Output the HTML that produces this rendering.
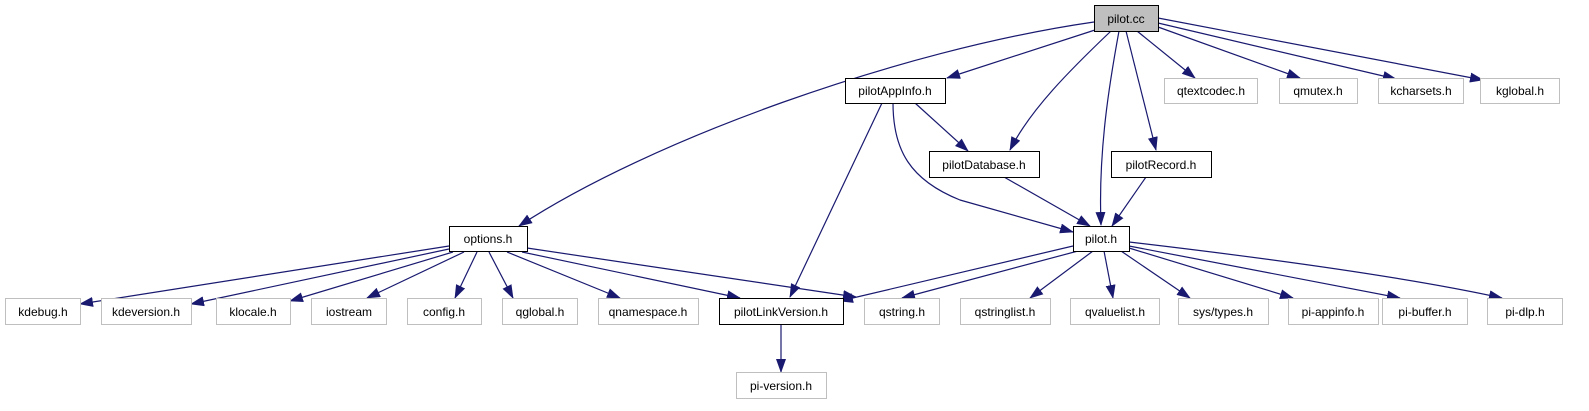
<!DOCTYPE html>
<html><head><meta charset="utf-8"><style>
html,body{margin:0;padding:0;background:#fff;}
svg{display:block;}
text{font-family:"Liberation Sans",sans-serif;font-size:12px;fill:#000;}
</style></head><body>
<svg width="1589" height="411" viewBox="0 0 1589 411" xmlns="http://www.w3.org/2000/svg">
<defs>
<marker id="a" markerUnits="userSpaceOnUse" markerWidth="15" markerHeight="11" refX="13" refY="5" orient="auto">
<path d="M0,0 L14,5 L0,10 Z" fill="#191970"/>
</marker>
</defs>
<g fill="none" stroke="#191970" stroke-width="1.2" marker-end="url(#a)">
<path d="M1094,22 C900,50 650,140 519,226"/>
<path d="M1095,30 L947,78"/>
<path d="M1111,31 C1070,70 1030,110 1010,150"/>
<path d="M1119,31 C1110,80 1098,150 1101,225"/>
<path d="M1126,31 L1156,150"/>
<path d="M1137,31 L1195,78"/>
<path d="M1158,27 L1300,78"/>
<path d="M1158,23 L1396,79"/>
<path d="M1158,18 L1483,80"/>
<path d="M915,103 L968,151"/>
<path d="M882,103 L790,297"/>
<path d="M893,103 C893,150 910,180 960,200 L1073,232"/>
<path d="M1004,177 L1090,226"/>
<path d="M1146,177 L1112,226"/>
<path d="M449,246 L80,304"/>
<path d="M449,249 L191,304"/>
<path d="M453,252 L290,301"/>
<path d="M464,252 L367,298"/>
<path d="M477,252 L455,298"/>
<path d="M489,252 L513,298"/>
<path d="M507,252 L620,298"/>
<path d="M522,252 L740,298"/>
<path d="M527,248 L856,297"/>
<path d="M1073,246 L840,301"/>
<path d="M1078,251 L902,298"/>
<path d="M1093,251 L1030,298"/>
<path d="M1104,251 L1113,298"/>
<path d="M1121,251 L1190,298"/>
<path d="M1129,248 L1293,298"/>
<path d="M1129,246 L1400,298"/>
<path d="M1129,242 C1300,262 1420,280 1502,298"/>
<path d="M781,324 L781,372"/>
</g>
<g stroke-width="1">
<rect x="1094.5" y="5.5" width="64" height="26" fill="#bfbfbf" stroke="#000"/>
<rect x="845.5" y="78.5" width="100" height="25" fill="#fff" stroke="#000"/>
<rect x="1164.5" y="78.5" width="93" height="25" fill="#fff" stroke="#bfbfbf"/>
<rect x="1279.5" y="78.5" width="78" height="25" fill="#fff" stroke="#bfbfbf"/>
<rect x="1378.5" y="78.5" width="85" height="25" fill="#fff" stroke="#bfbfbf"/>
<rect x="1480.5" y="78.5" width="79" height="25" fill="#fff" stroke="#bfbfbf"/>
<rect x="929.5" y="151.5" width="110" height="26" fill="#fff" stroke="#000"/>
<rect x="1111.5" y="151.5" width="100" height="26" fill="#fff" stroke="#000"/>
<rect x="449.5" y="226.5" width="78" height="25" fill="#fff" stroke="#000"/>
<rect x="1073.5" y="226.5" width="56" height="25" fill="#fff" stroke="#000"/>
<g fill="#fff" stroke="#bfbfbf">
<rect x="5.5" y="298.5" width="75" height="26"/>
<rect x="101.5" y="298.5" width="90" height="26"/>
<rect x="216.5" y="298.5" width="74" height="26"/>
<rect x="311.5" y="298.5" width="75" height="26"/>
<rect x="407.5" y="298.5" width="74" height="26"/>
<rect x="502.5" y="298.5" width="75" height="26"/>
<rect x="598.5" y="298.5" width="100" height="26"/>
<rect x="864.5" y="298.5" width="75" height="26"/>
<rect x="960.5" y="298.5" width="90" height="26"/>
<rect x="1070.5" y="298.5" width="89" height="26"/>
<rect x="1178.5" y="298.5" width="90" height="26"/>
<rect x="1288.5" y="298.5" width="90" height="26"/>
<rect x="1382.5" y="298.5" width="85" height="26"/>
<rect x="1487.5" y="298.5" width="75" height="26"/>
<rect x="736.5" y="372.5" width="90" height="26"/>
</g>
<rect x="719.5" y="298.5" width="124" height="26" fill="#fff" stroke="#000"/>
</g>
<g text-anchor="middle">
<text x="1126" y="23">pilot.cc</text>
<text x="895" y="95">pilotAppInfo.h</text>
<text x="1211" y="95">qtextcodec.h</text>
<text x="1318" y="95">qmutex.h</text>
<text x="1421" y="95">kcharsets.h</text>
<text x="1520" y="95">kglobal.h</text>
<text x="984" y="169">pilotDatabase.h</text>
<text x="1161" y="169">pilotRecord.h</text>
<text x="488" y="243">options.h</text>
<text x="1101" y="243">pilot.h</text>
<text x="43" y="316">kdebug.h</text>
<text x="146" y="316">kdeversion.h</text>
<text x="253" y="316">klocale.h</text>
<text x="349" y="316">iostream</text>
<text x="444" y="316">config.h</text>
<text x="540" y="316">qglobal.h</text>
<text x="648" y="316">qnamespace.h</text>
<text x="781" y="316">pilotLinkVersion.h</text>
<text x="902" y="316">qstring.h</text>
<text x="1005" y="316">qstringlist.h</text>
<text x="1115" y="316">qvaluelist.h</text>
<text x="1223" y="316">sys/types.h</text>
<text x="1333" y="316">pi-appinfo.h</text>
<text x="1425" y="316">pi-buffer.h</text>
<text x="1525" y="316">pi-dlp.h</text>
<text x="781" y="390">pi-version.h</text>
</g>
</svg>
</body></html>
